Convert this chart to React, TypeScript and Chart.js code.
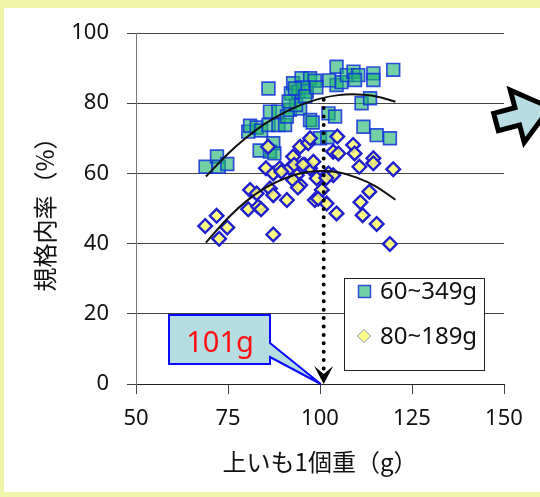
import React, { useEffect, useRef } from 'react';
import { Chart, registerables } from 'chart.js';

Chart.register(...registerables);

// ---- data ----
const xTicks = [50, 75, 100, 125, 150];
const yTicks = [0, 20, 40, 60, 80, 100];
const seriesLabels = ['60~349g', '80~189g'];
const xTitle = '上いも1個重（g）';
const yTitle = '規格内率（%）';
const calloutText = '101g';

const squareX = [68.9, 72.0, 72.5, 74.8, 80.5, 81.0, 82.8, 84.0, 83.6, 86.4, 87.3, 87.6, 86.0, 86.4, 86.0, 88.7, 88.7, 90.5, 91.0, 91.8, 94.6, 93.5, 92.1, 92.7, 94.1, 95.0, 96.4, 97.3, 98.6, 95.4, 93.2, 96.0, 97.3, 98.0, 100.0, 102.0, 102.3, 104.1, 104.5, 104.5, 105.8, 107.3, 109.1, 110.4, 109.5, 114.5, 114.5, 119.9, 111.3, 113.6, 111.8, 115.4, 119.0, 102.5, 91.5, 99.0];
const squareY = [61.9, 64.8, 61.9, 62.7, 71.9, 73.6, 73.1, 72.2, 66.5, 66.2, 68.6, 65.7, 84.2, 77.6, 73.8, 77.6, 73.8, 73.8, 76.2, 78.1, 78.5, 79.5, 82.8, 85.7, 83.3, 87.1, 83.3, 87.1, 86.4, 84.5, 84.2, 82.0, 75.2, 74.5, 70.0, 70.3, 77.1, 76.2, 90.4, 85.2, 86.0, 88.0, 89.0, 88.0, 86.6, 88.5, 86.6, 89.5, 80.0, 81.4, 73.3, 70.9, 70.0, 86.5, 80.5, 84.5];

const diamondX = [68.8, 71.9, 74.8, 72.6, 87.3, 80.5, 83.2, 84.0, 81.0, 82.8, 85.3, 87.3, 89.1, 86.4, 87.3, 91.0, 85.9, 91.8, 92.7, 94.6, 93.7, 94.6, 92.7, 95.9, 97.3, 98.2, 99.1, 100.5, 98.6, 101.8, 104.5, 103.6, 96.8, 102.3, 103.6, 105.0, 109.0, 109.4, 110.7, 114.5, 114.5, 119.9, 113.4, 111.0, 111.6, 115.4, 119.0, 104.7, 97.3, 93.0, 95.4, 99.5, 94.0, 89.5, 101.7];
const diamondY = [45.0, 47.9, 44.6, 41.4, 42.6, 49.8, 50.5, 49.8, 55.3, 54.3, 61.5, 60.0, 61.5, 55.7, 53.8, 52.4, 67.6, 61.5, 64.8, 67.6, 59.5, 56.7, 58.1, 62.4, 61.5, 63.3, 58.6, 55.3, 52.4, 51.4, 48.6, 66.2, 68.6, 60.0, 59.5, 65.7, 68.1, 65.7, 61.9, 64.3, 62.9, 61.2, 54.8, 51.8, 48.1, 45.6, 39.9, 70.5, 70.0, 62.5, 62.5, 52.8, 56.0, 60.5, 58.7];

// trend curves
const trendX = [69, 75, 80, 85, 90, 95, 100, 105, 110, 115, 120.5];
const trendUpper = [59.1, 65.6, 70.2, 74.1, 77.2, 79.6, 81.3, 82.3, 82.5, 82.0, 80.4];
const trendLower = [40.3, 47.3, 52.1, 55.8, 58.4, 60.1, 60.7, 60.3, 58.8, 56.4, 52.5];

// optimum marker (dotted arrow)
const optimumWeight = 101;
const optimumTop = 81;
const optimumBottom = 2.8;

const TICK_FONT = { family: '"Noto Sans", sans-serif', size: 22 };
const TITLE_FONT = { family: '"Noto Sans CJK JP", sans-serif', size: 24 };

const SQ_FILL = 'rgba(30,180,110,0.62)';
const SQ_BORDER = 'rgba(20,50,220,0.85)';
const DM_FILL = 'rgba(255,255,110,0.85)';
const DM_BORDER = '#1f1fd0';

const decorPlugin = {
  id: 'decor',
  beforeDraw(chart: any) {
    const ctx = chart.ctx;
    ctx.save();
    ctx.fillStyle = '#eef4a8';
    ctx.fillRect(0, 0, chart.width, chart.height);
    ctx.fillStyle = '#ffffff';
    ctx.fillRect(4, 8, chart.width - 4, chart.height - 13);
    ctx.restore();
  },
  afterDatasetsDraw(chart: any) {
    const ctx = chart.ctx;
    const xs = chart.scales.x;
    const ys = chart.scales.y;
    ctx.save();

    // arrowhead of dotted line
    const ax = xs.getPixelForValue(optimumWeight);
    const ay = ys.getPixelForValue(0);
    ctx.fillStyle = '#000';
    ctx.beginPath();
    ctx.moveTo(ax, ay);
    ctx.lineTo(ax - 9.5, ay - 18);
    ctx.lineTo(ax, ay - 10);
    ctx.lineTo(ax + 9.5, ay - 18);
    ctx.closePath();
    ctx.fill();

    // callout
    const tipX = xs.getPixelForValue(100.2);
    const tipY = ys.getPixelForValue(0);
    const bx0 = 169, by0 = 315, bx1 = 270, by1 = 364, py0 = 343, py1 = 357;
    ctx.beginPath();
    ctx.moveTo(bx0, by0);
    ctx.lineTo(bx1, by0);
    ctx.lineTo(bx1, py0);
    ctx.lineTo(tipX, tipY);
    ctx.lineTo(bx1, py1);
    ctx.lineTo(bx1, by1);
    ctx.lineTo(bx0, by1);
    ctx.closePath();
    ctx.fillStyle = '#b6dde1';
    ctx.fill();
    ctx.strokeStyle = '#0a0aff';
    ctx.lineWidth = 2;
    ctx.lineJoin = 'miter';
    ctx.stroke();
    ctx.fillStyle = '#ff1010';
    ctx.font = '29px "Noto Sans", sans-serif';
    ctx.textAlign = 'center';
    ctx.textBaseline = 'alphabetic';
    ctx.fillText(calloutText, 220, 352);

    // legend
    ctx.fillStyle = '#fff';
    ctx.fillRect(344, 278, 140, 92);
    ctx.strokeStyle = '#222';
    ctx.lineWidth = 1;
    ctx.strokeRect(344.5, 278.5, 140, 92);
    // square marker
    ctx.fillStyle = SQ_FILL;
    ctx.fillRect(358.5, 285.5, 12, 12);
    ctx.strokeStyle = SQ_BORDER;
    ctx.lineWidth = 1.5;
    ctx.strokeRect(358.5, 285.5, 12, 12);
    // diamond marker
    ctx.beginPath();
    ctx.moveTo(364, 329.5);
    ctx.lineTo(370.5, 336);
    ctx.lineTo(364, 342.5);
    ctx.lineTo(357.5, 336);
    ctx.closePath();
    ctx.fillStyle = '#ffff88';
    ctx.fill();
    ctx.strokeStyle = '#8a8ac8';
    ctx.lineWidth = 1;
    ctx.stroke();
    ctx.fillStyle = '#111';
    ctx.font = '24px "Noto Sans", sans-serif';
    ctx.textAlign = 'left';
    ctx.fillText(seriesLabels[0], 380, 298.5);
    ctx.fillText(seriesLabels[1], 380, 343.5);

    // big block arrow (top right decoration)
    const ox = 496, oy = 122, ang = (-15 * Math.PI) / 180;
    const u = [Math.cos(ang), Math.sin(ang)];
    const n = [-Math.sin(ang), Math.cos(ang)];
    const pts = [[0, -9], [22, -9], [22, -27], [56, 0], [22, 27], [22, 9], [0, 9]];
    ctx.beginPath();
    pts.forEach(([a, c], i) => {
      const px = ox + a * u[0] + c * n[0];
      const py = oy + a * u[1] + c * n[1];
      if (i === 0) ctx.moveTo(px, py); else ctx.lineTo(px, py);
    });
    ctx.closePath();
    ctx.fillStyle = '#b8dde2';
    ctx.fill();
    ctx.strokeStyle = '#000';
    ctx.lineWidth = 5;
    ctx.stroke();

    ctx.restore();
  },
};

export default function App() {
  const ref = useRef<HTMLCanvasElement>(null);

  useEffect(() => {
    const canvas = ref.current;
    if (!canvas) return;
    const chart = new Chart(canvas, {
      type: 'scatter',
      data: {
        datasets: [
          {
            label: 'trendUpper',
            data: trendX.map((x, i) => ({ x, y: trendUpper[i] })),
            showLine: true,
            pointRadius: 0,
            borderColor: '#111',
            borderWidth: 2,
            tension: 0.4,
            order: 0,
          },
          {
            label: 'trendLower',
            data: trendX.map((x, i) => ({ x, y: trendLower[i] })),
            showLine: true,
            pointRadius: 0,
            borderColor: '#111',
            borderWidth: 2,
            tension: 0.4,
            order: 0,
          },
          {
            label: 'optimum',
            data: [
              { x: optimumWeight, y: optimumTop },
              { x: optimumWeight, y: optimumBottom },
            ],
            showLine: true,
            pointRadius: 0,
            borderColor: '#000',
            borderWidth: 4,
            borderDash: [0, 8.4],
            borderCapStyle: 'round',
            order: 0,
          },
          {
            label: seriesLabels[1],
            data: diamondX.map((x, i) => ({ x, y: diamondY[i] })),
            pointStyle: 'rectRot',
            pointRadius: 6.8,
            backgroundColor: DM_FILL,
            borderColor: DM_BORDER,
            borderWidth: 2.4,
            order: 1,
          },
          {
            label: seriesLabels[0],
            data: squareX.map((x, i) => ({ x, y: squareY[i] })),
            pointStyle: 'rect',
            pointRadius: 9,
            backgroundColor: SQ_FILL,
            borderColor: SQ_BORDER,
            borderWidth: 1.7,
            order: 2,
          },
        ] as any,
      },
      options: {
        animation: false,
        responsive: false,
        devicePixelRatio: 1,
        layout: { padding: { left: 0, right: 36, top: 33, bottom: 0 } },
        plugins: { legend: { display: false }, tooltip: { enabled: false } },
        scales: {
          x: {
            type: 'linear',
            min: 50,
            max: 150,
            afterBuildTicks: (s: any) => {
              s.ticks = xTicks.map((v) => ({ value: v }));
            },
            afterFit: (s: any) => {
              s.height = 113;
            },
            grid: { drawOnChartArea: false, drawTicks: true, tickLength: 10, color: '#444', lineWidth: 1 },
            border: { display: true, color: '#222', width: 1 },
            ticks: { color: '#111', font: TICK_FONT, padding: 12, maxRotation: 0, autoSkip: false },
            title: { display: true, text: xTitle, color: '#111', font: TITLE_FONT, padding: { top: 0, bottom: 21 } },
          },
          y: {
            type: 'linear',
            min: 0,
            max: 100,
            afterBuildTicks: (s: any) => {
              s.ticks = yTicks.map((v) => ({ value: v }));
            },
            afterFit: (s: any) => {
              s.width = 136;
            },
            grid: { color: '#444', lineWidth: 1, tickLength: 9 },
            border: { display: true, color: '#777', width: 1 },
            ticks: { color: '#111', font: TICK_FONT, padding: 18, autoSkip: false },
            title: { display: true, text: yTitle, color: '#111', font: TITLE_FONT, padding: { top: 30, bottom: 0 } },
          },
        },
      } as any,
      plugins: [decorPlugin],
    });
    const fontsAny = (document as any).fonts;
    if (fontsAny && fontsAny.load) {
      Promise.all([
        fontsAny.load('22px "Noto Sans"'),
        fontsAny.load('24px "Noto Sans CJK JP"'),
      ]).then(() => {
        try { chart.update(); } catch (e) {}
      }).catch(() => {});
    }
    return () => chart.destroy();
  }, []);

  return (
    <div style={{ position: 'fixed', left: 0, top: 0, width: 540, height: 497 }}>
      <canvas ref={ref} width={540} height={497} style={{ display: 'block', width: 540, height: 497 }} />
    </div>
  );
}
